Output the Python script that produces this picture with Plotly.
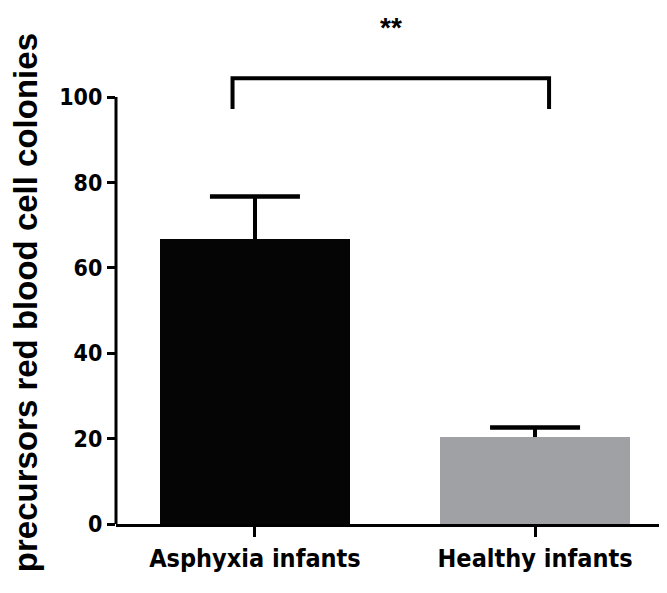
import plotly.graph_objects as go

categories = ["Asphyxia infants", "Healthy infants"]
means = [66.7, 20.4]
err_up = [10.0, 2.2]
bar_colors = ["#050505", "#A0A1A5"]
y_ticks = [0, 20, 40, 60, 80, 100]
y_title = "precursors red blood cell colonies"
sig_text = "**"
bracket_x = [-0.08, 1.05]
bracket_top = 104.4
bracket_leg = 97.2

narrow = "DejaVu Sans Condensed, Liberation Sans Narrow, sans-serif"
regular = "Liberation Sans, Arial, DejaVu Sans, sans-serif"

x_pos = list(range(len(categories)))
err_tops = [m + e for m, e in zip(means, err_up)]

fig = go.Figure()
# bars with error stem (no caps)
fig.add_trace(go.Bar(
    x=x_pos, y=means, width=0.68,
    marker=dict(color=bar_colors, line=dict(width=0)),
    error_y=dict(type="data", symmetric=False, array=err_up,
                 arrayminus=[0] * len(means), color="black",
                 thickness=3.5, width=0),
    showlegend=False,
))
# error caps only at the top
fig.add_trace(go.Scatter(
    x=x_pos, y=err_tops, mode="markers",
    marker=dict(size=1, opacity=0),
    error_y=dict(type="data", symmetric=True, array=[0] * len(means),
                 color="black", thickness=4.5, width=45),
    showlegend=False, hoverinfo="skip",
))

# y axis line from 0 to max tick
fig.add_shape(type="line", xref="x domain", yref="y",
              x0=0, x1=0, y0=0, y1=max(y_ticks),
              line=dict(color="black", width=3))

# significance bracket
fig.add_trace(go.Scatter(
    x=[bracket_x[0], bracket_x[0], bracket_x[1], bracket_x[1]],
    y=[bracket_leg, bracket_top, bracket_top, bracket_leg],
    mode="lines", line=dict(color="black", width=4),
    showlegend=False, hoverinfo="skip",
))
fig.add_annotation(x=sum(bracket_x) / 2, y=bracket_top + 12, xref="x", yref="y",
                   text=sig_text, showarrow=False,
                   font=dict(family=regular, size=28, color="black", weight="bold"))

fig.add_annotation(x=-0.163, y=0.43, xref="paper", yref="paper",
                   text=y_title, textangle=-90, showarrow=False,
                   xanchor="center", yanchor="middle",
                   font=dict(family=regular, size=33, color="black", weight="bold"))

fig.update_xaxes(
    tickvals=x_pos, ticktext=categories, range=[-0.496, 1.471],
    showline=True, linewidth=3, linecolor="black",
    ticks="outside", ticklen=10, tickwidth=3, tickcolor="black",
    showgrid=False, zeroline=False,
    tickfont=dict(family=narrow, size=25, color="black", weight="bold"),
)
fig.update_yaxes(
    range=[0, 120.4], tickvals=y_ticks,
    showline=False, showgrid=False, zeroline=False,
    ticks="outside", ticklen=8, tickwidth=3, tickcolor="black",
    tickfont=dict(family=narrow, size=23, color="black", weight="bold"),
)
fig.update_layout(
    width=659, height=585,
    margin=dict(l=108, r=0, t=2, b=69),
    plot_bgcolor="white", paper_bgcolor="white",
    bargap=0,
)
fig.write_html("out.html")
